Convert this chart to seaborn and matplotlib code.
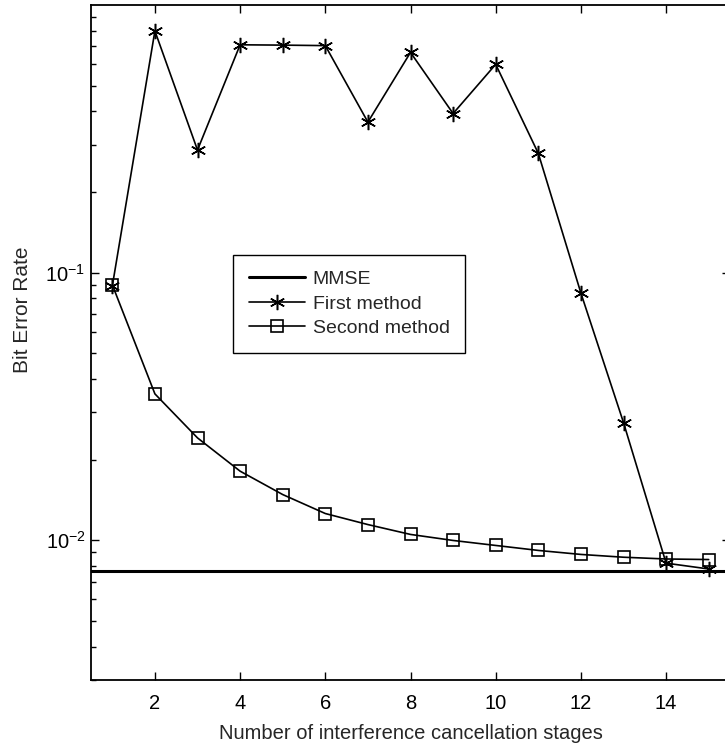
import numpy as np
import matplotlib
matplotlib.use('Agg')
import matplotlib.pyplot as plt
import seaborn as sns
from matplotlib.ticker import LogLocator, NullFormatter, FixedLocator, FixedFormatter

# data
stages = [1, 2, 3, 4, 5, 6, 7, 8, 9, 10, 11, 12, 13, 14, 15]
first_method = [0.089, 0.80, 0.287, 0.71, 0.708, 0.705, 0.365, 0.665, 0.393,
                0.60, 0.279, 0.0838, 0.0275, 0.0082, 0.0078]
second_method = [0.090, 0.0352, 0.0241, 0.0181, 0.0148, 0.01257, 0.01143, 0.0105,
                 0.00997, 0.00955, 0.00915, 0.00884, 0.00863, 0.0085, 0.00846]
mmse_ber = 0.00768

x_ticks = [2, 4, 6, 8, 10, 12, 14]
y_ticks = [1e-2, 1e-1]
y_ticklabels = [r'$\mathregular{10^{-2}}$', r'$\mathregular{10^{-1}}$']

sns.set_theme(style='ticks')
plt.rcParams['font.family'] = ['Liberation Sans', 'DejaVu Sans']
plt.rcParams['mathtext.fontset'] = 'custom'
plt.rcParams['mathtext.rm'] = 'Liberation Sans'

fig = plt.figure(figsize=(7.25, 7.52), dpi=100)
ax = fig.add_axes([91 / 725, 1 - 680 / 752, 639 / 725, 675 / 752])

ax.axhline(mmse_ber, color='black', lw=2.2, label='MMSE')
sns.lineplot(x=stages, y=first_method, ax=ax, color='black', lw=1.2,
             marker=(6, 2, 0), markersize=11, markeredgewidth=1.1,
             markeredgecolor='black', label='First method')
sns.lineplot(x=stages, y=second_method, ax=ax, color='black', lw=1.2,
             marker='s', markersize=8, markerfacecolor='none',
             markeredgewidth=1.2, markeredgecolor='black', label='Second method')

ax.set_yscale('log')
ax.set_xlim(0.5, 15.5)
ax.set_ylim(3e-3, 1)
ax.xaxis.set_major_locator(FixedLocator(x_ticks))
ax.yaxis.set_major_locator(FixedLocator(y_ticks))
ax.yaxis.set_major_formatter(FixedFormatter(y_ticklabels))
ax.yaxis.set_minor_locator(LogLocator(base=10, subs=np.arange(2, 10)))
ax.yaxis.set_minor_formatter(NullFormatter())

for s in ax.spines.values():
    s.set_color('black')
    s.set_linewidth(1.3)
ax.tick_params(which='both', direction='in', top=True, right=True, colors='black',
               labelsize=14.5, width=1.0)
ax.tick_params(which='major', length=6)
ax.tick_params(which='minor', length=3.5)
ax.tick_params(axis='x', pad=10)
ax.tick_params(axis='y', pad=4)

ax.set_xlabel('Number of interference cancellation stages', fontsize=14.5, labelpad=8)
ax.set_ylabel('Bit Error Rate', fontsize=15)
ax.yaxis.set_label_coords((32 - 91) / 639, (680 - 310) / 675)

leg = ax.legend(loc='upper left', bbox_to_anchor=((233 - 91) / 639, (680 - 255) / 675),
                borderaxespad=0, fontsize=14, frameon=True, fancybox=False,
                handlelength=2.9, borderpad=0.8, labelspacing=0.35, handletextpad=0.4)
leg.get_frame().set_edgecolor('black')
leg.get_frame().set_linewidth(1.0)
leg.get_frame().set_alpha(1)

fig.savefig('out.png', dpi=100)
